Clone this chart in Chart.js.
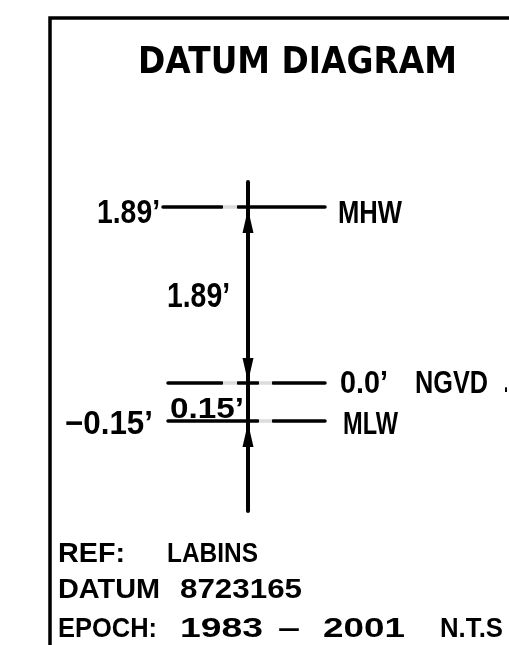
<!DOCTYPE html>
<html>
<head>
<meta charset="utf-8">
<script src="https://cdn.jsdelivr.net/npm/chart.js@4/dist/chart.umd.min.js"></script>
<style>
  html, body { margin: 0; padding: 0; background: #fff; }
  canvas { display: block; }
</style>
</head>
<body>
<canvas id="datumChart" width="509" height="645"></canvas>
<script>
// données du diagramme
const titleText = 'DATUM DIAGRAM';
const levelNames = ['MHW', 'NGVD', 'MLW'];
const levelValues = [1.89, 0.0, -0.15];
const levelTexts = ['1.89\u2019', '0.0\u2019', '\u22120.15\u2019'];
const noteLines = [
    ['REF:', 'LABINS'],
    ['DATUM', '8723165'],
    ['EPOCH:', '1983', '\u2013', '2001', 'N.T.S']
];

// mise en page (diagramme hors échelle, N.T.S.)
const layout = {
    levelY: [207, 383, 421],
    lineStart: [163, 168, 168],
    lineEnd: 325,
    gaps: [[[222, 238]], [[222, 238], [258, 273]], [[258, 273]]],
    stemX: 248, stemTop: 182, stemBottom: 511,
    frameX: 50, frameY: 18
};

const BLACK = '#000';
const LABEL_FONT = '"Liberation Sans", Arial, sans-serif';

// écarts entre niveaux : 1.89 et 0.15
const intervals = levelValues.slice(1).map((v, i) => Math.abs(levelValues[i] - v).toFixed(2) + '\u2019');

function levelSegments(i) {
    const y = layout.levelY[i];
    const pts = [{ x: layout.lineStart[i], y }];
    layout.gaps[i].forEach(g => {
        pts.push({ x: g[0], y }, { x: g[0], y: null }, { x: g[1], y });
    });
    pts.push({ x: layout.lineEnd, y });
    return pts;
}

function gapSegments() {
    const pts = [];
    layout.gaps.forEach((gs, i) => gs.forEach(g => {
        pts.push({ x: g[0] + 1, y: layout.levelY[i] }, { x: g[1] - 1, y: layout.levelY[i] }, { x: g[1], y: null });
    }));
    return pts;
}

const lineStyle = { showLine: true, pointRadius: 0, borderColor: BLACK, borderCapStyle: 'round', spanGaps: false };

const datasets = [
    // cadre
    Object.assign({}, lineStyle, { data: [{ x: 509, y: layout.frameY }, { x: layout.frameX, y: layout.frameY }, { x: layout.frameX, y: 645 }], borderWidth: 3.5, borderCapStyle: 'butt' }),
    // tige verticale
    Object.assign({}, lineStyle, { data: [{ x: layout.stemX, y: layout.stemTop }, { x: layout.stemX, y: layout.stemBottom }], borderWidth: 4 }),
    // interruptions (blanc bordé de gris)
    Object.assign({}, lineStyle, { data: gapSegments(), borderWidth: 3.5, borderColor: '#dcdcdc', borderCapStyle: 'butt' }),
    Object.assign({}, lineStyle, { data: gapSegments(), borderWidth: 2, borderColor: '#fff', borderCapStyle: 'butt' })
];
levelNames.forEach((name, i) => {
    datasets.push(Object.assign({}, lineStyle, { label: name, data: levelSegments(i), borderWidth: 3.5 }));
});

function put(ctx, text, x, y, w, size, weight, family) {
    ctx.font = `${weight} ${size}px ${family}`;
    const m = ctx.measureText(text).width;
    ctx.save();
    ctx.translate(x, y);
    ctx.scale(w / m, 1);
    ctx.fillText(text, 0, 0);
    ctx.restore();
}

const annotations = {
    id: 'datumAnnotations',
    afterDatasetsDraw(chart) {
        const ctx = chart.ctx;
        const xs = chart.scales.x, ys = chart.scales.y;
        const px = v => xs.getPixelForValue(v), py = v => ys.getPixelForValue(v);
        ctx.save();
        ctx.fillStyle = BLACK;
        ctx.textBaseline = 'alphabetic';
        ctx.textAlign = 'left';

        // titre
        put(ctx, titleText, px(138), py(73), 319, 38, 'bold', '"DejaVu Sans", sans-serif');

        // flèches
        const arrow = (tip, dir) => {
            const x = px(layout.stemX), t = py(tip), b = py(tip + dir * 24);
            ctx.beginPath();
            ctx.moveTo(x, t);
            ctx.lineTo(x - 5.5, b);
            ctx.lineTo(x + 5.5, b);
            ctx.closePath();
            ctx.fill();
        };
        arrow(layout.levelY[0] + 2, 1);
        arrow(layout.levelY[1] - 1, -1);
        arrow(layout.levelY[2] + 2, 1);

        // étiquettes des niveaux
        put(ctx, levelTexts[0], px(97), py(223), 63, 33, 'bold', LABEL_FONT);
        put(ctx, levelNames[0], px(338), py(223), 64, 31, 'bold', LABEL_FONT);
        put(ctx, levelTexts[1], px(340), py(393), 48, 32, 'bold', LABEL_FONT);
        put(ctx, levelNames[1], px(415), py(393), 73, 31, 'bold', LABEL_FONT);
        put(ctx, levelTexts[2], px(65), py(434), 88, 33, 'bold', LABEL_FONT);
        put(ctx, levelNames[2], px(343), py(434), 55, 31, 'bold', LABEL_FONT);
        put(ctx, '.', px(504), py(392), 4, 31, 'bold', LABEL_FONT);

        // écarts
        put(ctx, intervals[0], px(167), py(307), 63, 35, 'bold', LABEL_FONT);
        put(ctx, intervals[1], px(170), py(418), 74, 30, 'bold', LABEL_FONT);

        // notes du bas
        const noteX = [[58, 167], [58, 180], [58, 180, 278, 323, 440]];
        const noteW = [[67, 91], [102, 122], [99, 83, 22, 82, 63]];
        const noteBase = [562, 598, 637];
        noteLines.forEach((parts, r) => {
            parts.forEach((p, k) => put(ctx, p, px(noteX[r][k]), py(noteBase[r]), noteW[r][k], 28, 'bold', LABEL_FONT));
        });
        ctx.restore();
    }
};

new Chart(document.getElementById('datumChart'), {
    type: 'scatter',
    data: { datasets },
    options: {
        responsive: false,
        devicePixelRatio: 1,
        animation: false,
        layout: { padding: 0 },
        plugins: { legend: { display: false }, tooltip: { enabled: false }, title: { display: false } },
        scales: {
            x: { type: 'linear', min: 0, max: 509, display: false },
            y: { type: 'linear', min: 0, max: 645, reverse: true, display: false }
        }
    },
    plugins: [annotations]
});
</script>
</body>
</html>
